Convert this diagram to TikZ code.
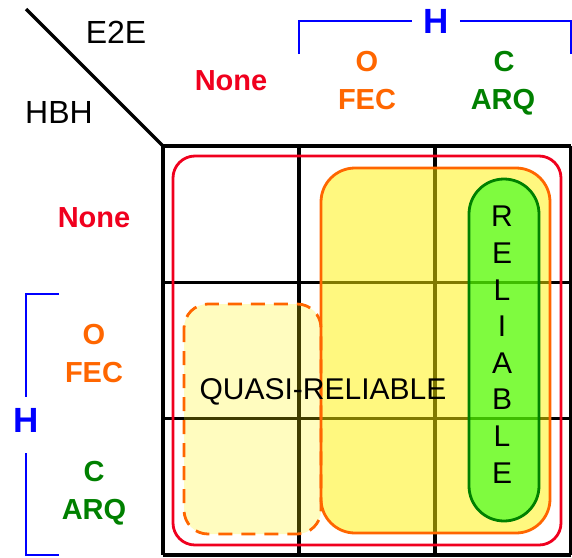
\documentclass[tikz,border=0pt]{standalone}
\usepackage{fontspec}
\setmainfont{Liberation Sans}
\usepackage{xcolor}
\usepackage{tikz}
\usetikzlibrary{arrows.meta}

\definecolor{rosso}{RGB}{240,0,30}
\definecolor{arancio}{RGB}{255,102,0}
\definecolor{verde}{RGB}{0,128,0}
\definecolor{blu}{RGB}{0,0,255}

\tikzset{
    testo/.style={font=\fontsize{30}{36}\selectfont, anchor=base, inner sep=0pt},
    grassetto/.style={font=\fontsize{29}{36}\bfseries\selectfont, anchor=base, inner sep=0pt},
    acca/.style={font=\fontsize{35}{40}\bfseries\selectfont, blu, anchor=base, inner sep=0pt},
    parentesi/.style={blu, line width=2pt},
    griglia/.style={line width=3.2pt},
    bordo/.style={line width=2.8pt},
}

\begin{document}
\begin{tikzpicture}[x=1pt, y=-1pt]
    \useasboundingbox (0,0) rectangle (572,557);

    % Griglia 3x3
    \coordinate (o) at (163,146);
    \foreach \i in {0,1,2,3} {
        \draw[griglia] (163+136*\i,146) -- (163+136*\i,555);
        \draw[griglia] (163,146+136.3*\i) -- (571,146+136.3*\i);
    }

    % Diagonale
    \coordinate (d) at (26,9);
    \draw[griglia] (d) -- (o);
    \node[testo, font=\fontsize{32}{36}\selectfont] (e2e) at (116,43) {E2E};
    \node[testo, font=\fontsize{32}{36}\selectfont] (hbh) at (59,123) {HBH};

    % Riempimenti
    \fill[yellow, fill opacity=0.25, rounded corners=24] (184,304) rectangle (321,534);
    \fill[yellow, fill opacity=0.5, rounded corners=34] (321,168) rectangle (550,533);
    \fill[green, fill opacity=0.5, rounded corners=35] (469,179) rectangle (539,521);

    % Bordi
    \draw[bordo, rosso, rounded corners=22] (173,156) rectangle (561,545);
    \draw[bordo, arancio, dash pattern=on 14pt off 9pt, rounded corners=24] (184,304) rectangle (321,534);
    \draw[bordo, arancio, rounded corners=34] (321,168) rectangle (550,533);
    \draw[bordo, verde, rounded corners=35] (469,179) rectangle (539,521);

    % Intestazioni colonne
    \node[grassetto, rosso] (nonecol) at (231,90) {None};
    \node[grassetto, arancio] (ocol) at (367,71) {O};
    \node[grassetto, arancio] (feccol) at (367,109) {FEC};
    \node[grassetto, verde] (ccol) at (504,71) {C};
    \node[grassetto, verde] (arqcol) at (503,109) {ARQ};
    \node[acca, inner xsep=11pt] (hcol) at (436,33) {H};
    \coordinate (hcolsx) at (299,54);
    \coordinate (hcoldx) at (571,54);
    \draw[parentesi] (hcolsx) |- (hcol.west);
    \draw[parentesi] (hcol.east) -| (hcoldx);

    % Intestazioni righe
    \node[grassetto, rosso] (nonerig) at (94,227) {None};
    \node[grassetto, arancio] (orig) at (94,344) {O};
    \node[grassetto, arancio] (fecrig) at (94,382) {FEC};
    \node[grassetto, verde] (crig) at (94,481) {C};
    \node[grassetto, verde] (arqrig) at (94,519) {ARQ};
    \node[acca, inner ysep=11pt] (hrig) at (26,432) {H};
    \coordinate (hrigsu) at (59,294);
    \coordinate (hriggiu) at (59,555);
    \draw[parentesi] (hrigsu) -| (hrig.north);
    \draw[parentesi] ([yshift=-10pt]hrig.south) |- (hriggiu);

    % Etichette
    \node[testo] (quasi) at (323,399) {QUASI-RELIABLE};
    \node[testo, align=center, anchor=base, font=\fontsize{30}{36.6}\selectfont] (rel) at (502,483)
        {R\\E\\L\\I\\A\\B\\L\\E};
\end{tikzpicture}
\end{document}
